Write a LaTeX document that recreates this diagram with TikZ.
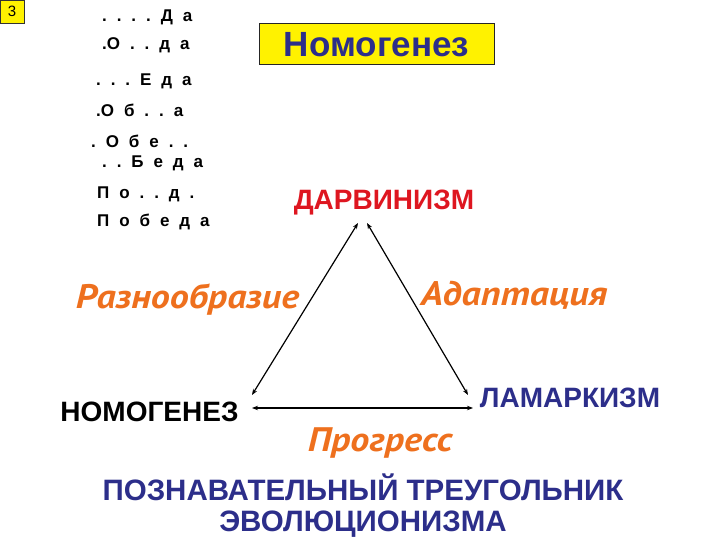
\documentclass[tikz,border=0pt]{standalone}
\usepackage{fontspec}
\setmainfont{Liberation Sans}
\newfontfamily\italfont[FakeStretch=1.12]{PT Sans}
\newfontfamily\puzzlefont[WordSpace=2.1]{Liberation Sans}
\usetikzlibrary{arrows.meta}
\definecolor{navy}{RGB}{44,46,138}
\definecolor{darwinred}{RGB}{222,22,32}
\definecolor{orng}{RGB}{238,112,30}
\tikzset{
  word/.style={anchor=west,inner sep=0pt,font=\puzzlefont\bfseries\fontsize{17}{17}\selectfont},
  school/.style={inner sep=0pt,font=\bfseries\fontsize{28}{28}\selectfont},
  trait/.style={inner sep=0pt,text=orng,font=\italfont\bfseries\itshape\fontsize{34}{34}\selectfont},
  link/.style={line width=1.2pt,{Stealth[length=6pt,width=4.5pt]}-{Stealth[length=6pt,width=4.5pt]}}
}
\begin{document}
\begin{tikzpicture}[x=1pt,y=-1pt]
      \useasboundingbox (0,0) rectangle (720,540);
      \node[draw=black!80,fill=yellow,line width=0.8pt,minimum width=24pt,minimum height=23pt,inner sep=0pt,
        font=\fontsize{15}{15}\selectfont] (num) at (12,11.5) {3};
      \draw
        (102,17) node[word] (w1){.\ .\ .\ .\ Д\ а}
        (102,45) node[word] (w2){.О\ .\ .\ д\ а}
        (96,81) node[word] (w3){.\ .\ .\ Е\ д\ а}
        (96,110) node[word] (w4){.О\ б\ .\ .\ а}
        (91,141) node[word] (w5){.\ О\ б\ е\ .\ .}
        (102,163) node[word] (w6){.\ .\ Б\ е\ д\ а}
        (97,194) node[word] (w7){П\ о\ .\ .\ д\ .}
        (97,222) node[word] (w8){П\ о\ б\ е\ д\ а};
      \node[draw=black!85,fill=yellow,line width=1pt,minimum width=235pt,minimum height=41pt,inner sep=0pt,
        text=navy,font=\bfseries\fontsize{35}{35}\selectfont] (box) at (376.5,44.5) {Номогенез};
      \node[school,text=darwinred] (darwin) at (384,203) {ДАРВИНИЗМ};
      \node[school] (nomo) at (149.5,412) {НОМОГЕНЕЗ};
      \node[school,text=navy] (lamarck) at (570,398) {ЛАМАРКИЗМ};
      \coordinate (topA) at (358,223);
      \coordinate (topB) at (367,223);
      \coordinate (leftA) at (252,395);
      \coordinate (leftB) at (252,408);
      \coordinate (rightA) at (468,395);
      \coordinate (rightB) at (473,408);
      \begin{scope}[link]
        \draw (topA) to (leftA);
        \draw (topB) to (rightA);
        \draw[line width=1.8pt] (leftB) to (rightB);
      \end{scope}
      \node[trait] (variety) at (187.5,300) {Разнообразие};
      \node[trait] (adapt) at (514,295) {Адаптация};
      \node[trait] (progress) at (380,443) {Прогресс};
      \node[text=navy,align=center,inner sep=0pt,font=\bfseries\fontsize{29.5}{31}\selectfont] (title) at (363,506)
        {ПОЗНАВАТЕЛЬНЫЙ ТРЕУГОЛЬНИК\\ЭВОЛЮЦИОНИЗМА};
    \end{tikzpicture}
\end{document}
